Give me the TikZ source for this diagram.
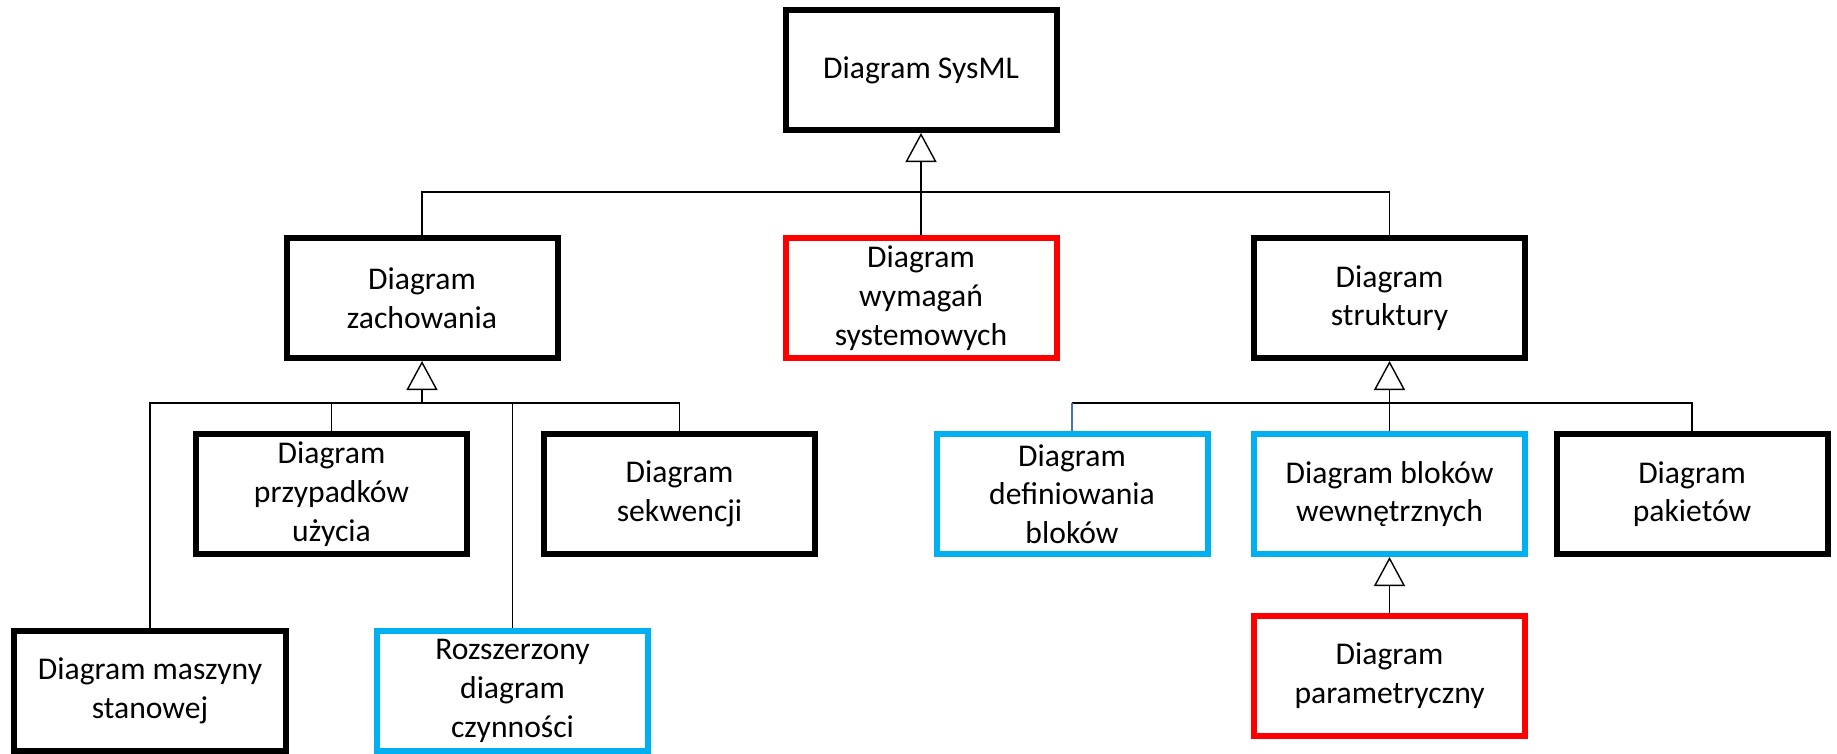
\documentclass[tikz,border=0pt]{standalone}
\usepackage{fontspec}
\setmainfont{Carlito}
\usepackage{xcolor}
\definecolor{colReq}{HTML}{FF0000}
\definecolor{colNew}{HTML}{00B0F0}
\definecolor{colLink}{HTML}{4472C4}
\usepackage{tikz}
\usetikzlibrary{arrows.meta, positioning, calc}
\tikzset{
	diagbox/.style={draw=#1, line width=0.06cm, minimum width=2.71cm, minimum height=1.2cm, inner sep=2pt, align=center, fill=white, font=\fontsize{9pt}{11pt}\selectfont},
	diagbox/.default=black,
	conn/.style={line width=0.4pt, black},
	genarr/.style={conn, -{Triangle[open, length=0.29cm, width=0.31cm, fill=white]}},
}

\begin{document}
\begin{tikzpicture}
	\useasboundingbox (0,0) rectangle (18.37,-7.53);

	% Root
	\node[diagbox] (sysml) at (9.21,-0.70) {Diagram SysML};

	% First level
	\node[diagbox] (zach) at (4.22,-2.98) {Diagram\\zachowania};
	\node[diagbox=colReq] (wymag) at (9.21,-2.98) {Diagram\\wymagań\\systemowych};
	\node[diagbox] (strukt) at (13.895,-2.98) {Diagram\\struktury};

	% Behaviour diagrams
	\node[diagbox] (przyp) at (3.315,-4.94) {Diagram\\przypadków\\użycia};
	\node[diagbox] (sekw) at (6.795,-4.94) {Diagram\\sekwencji};
	\node[diagbox] (masz) at (1.50,-6.91) {Diagram maszyny\\stanowej};
	\node[diagbox=colNew] (rozsz) at (5.125,-6.91) {Rozszerzony\\diagram\\czynności};

	% Structure diagrams
	\node[diagbox=colNew] (defin) at (10.72,-4.94) {Diagram\\definiowania\\bloków};
	\node[diagbox=colNew] (wewn) at (13.895,-4.94) {Diagram bloków\\wewnętrznych};
	\node[diagbox] (pakiet) at (16.92,-4.94) {Diagram\\pakietów};
	\node[diagbox=colReq] (param) at (13.895,-6.755) {Diagram\\parametryczny};

	% Buses
	\coordinate (busTop) at (9.21,-1.92);
	\coordinate (busZach) at (4.22,-4.03);
	\coordinate (busStrukt) at (13.895,-4.03);

	% Generalisation into the root
	\draw[conn] (zach.north) |- (busTop) -| (strukt.north);
	\draw[genarr] (wymag.north) -- (sysml.south);

	% Generalisation into behaviour
	\draw[conn] (masz.north) |- (busZach) -| (sekw.north);
	\draw[conn] (przyp.north) -- (przyp.north |- busZach);
	\draw[conn] (rozsz.north) -- (rozsz.north |- busZach);
	\draw[genarr] (busZach) -- (zach.south);

	% Generalisation into structure
	\draw[conn] (busStrukt) -| (pakiet.north);
	\draw[conn] (busStrukt) -- (defin.north |- busStrukt);
	\draw[conn, colLink] (defin.north |- busStrukt) -- (defin.north);
	\draw[genarr] (wewn.north) -- (strukt.south);
	\draw[genarr] (param.north) -- (wewn.south);
\end{tikzpicture}
\end{document}
